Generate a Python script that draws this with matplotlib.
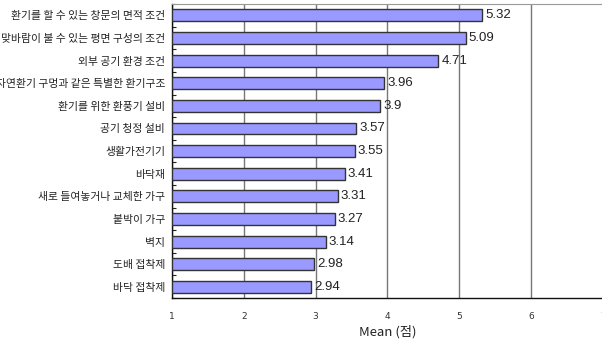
import matplotlib
matplotlib.use("Agg")
import matplotlib.pyplot as plt
import numpy as np

plt.rcParams['font.family'] = ['Noto Sans CJK KR', 'DejaVu Sans']

# survey items (top to bottom) and their mean scores
items = [
    "환기를 할 수 있는 창문의 면적 조건",
    "맞바람이 불 수 있는 평면 구성의 조건",
    "외부 공기 환경 조건",
    "자연환기 구멍과 같은 특별한 환기구조",
    "환기를 위한 환풍기 설비",
    "공기 청정 설비",
    "생활가전기기",
    "바닥재",
    "새로 들여놓거나 교체한 가구",
    "붙박이 가구",
    "벽지",
    "도배 접착제",
    "바닥 접착제",
]
means = [5.32, 5.09, 4.71, 3.96, 3.9, 3.57, 3.55, 3.41, 3.31, 3.27, 3.14, 2.98, 2.94]
xticks = [1, 2, 3, 4, 5, 6, 7]

fig = plt.figure(figsize=(6.02, 3.45), dpi=100)
ax = fig.add_axes([0.2857, 0.136, 0.7155, 0.852])

y = np.arange(len(items))
base = 1
ax.barh(y, np.array(means) - base, left=base, height=0.53,
        color='#9999FF', edgecolor='#333333', linewidth=1.0, zorder=3)

for yi, v in zip(y, means):
    ax.text(v + 0.04, yi, f"{v:g}", va='center', ha='left',
            fontsize=9.5, color='#222222', family='Liberation Sans', zorder=4)

ax.set_xlim(1, 7)
ax.set_ylim(len(items) - 0.5, -0.5)
ax.set_xticks(xticks)
ax.set_xticklabels([str(t) for t in xticks], fontsize=6.5, color='#333333',
                   family='DejaVu Sans')
ax.tick_params(axis='x', length=0, pad=10)

ax.set_yticks(y)
ax.set_yticklabels(items, fontsize=7.8, color='#222222')
ax.set_yticks(np.arange(len(items) + 1) - 0.5, minor=True)
ax.tick_params(axis='y', which='major', length=0, pad=5)
ax.tick_params(axis='y', which='minor', length=3, direction='in',
               color='#222222', width=0.8)

ax.grid(axis='x', color='#777777', linewidth=1.0, zorder=0)
ax.spines['left'].set_color('#111111')
ax.spines['bottom'].set_color('#111111')
ax.spines['left'].set_linewidth(1.0)
ax.spines['bottom'].set_linewidth(1.0)
ax.spines['top'].set_color('#999999')
ax.spines['right'].set_visible(False)

ax.set_xlabel("Mean (점)", fontsize=9.5, color='#222222', labelpad=3)

fig.savefig("out.png", dpi=100)
